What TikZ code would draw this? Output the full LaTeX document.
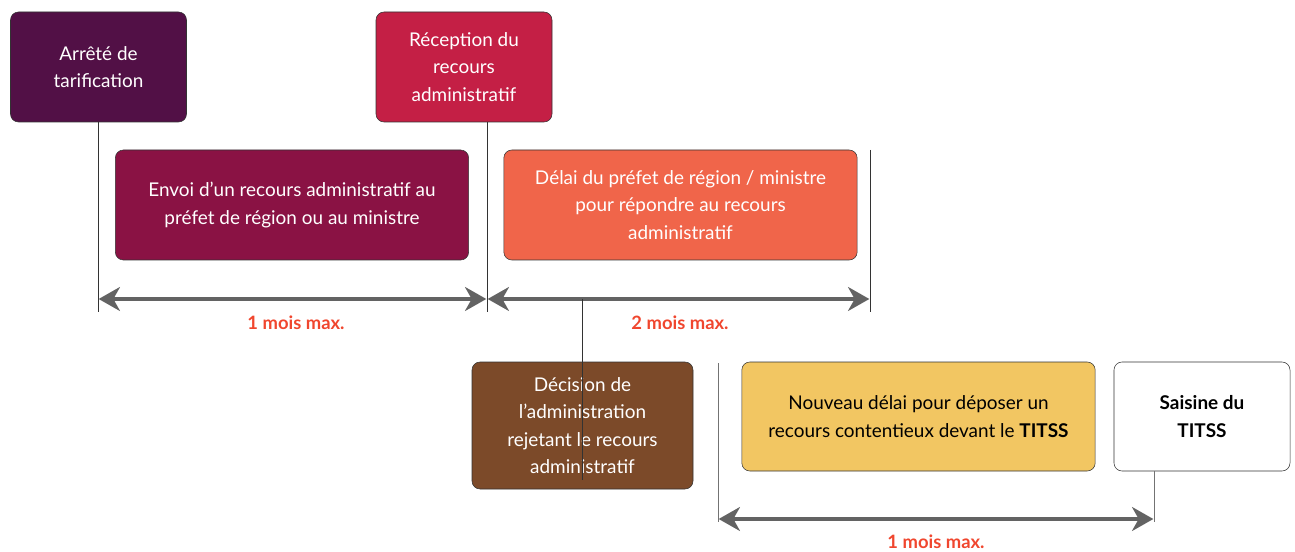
\documentclass[tikz,border=0pt]{standalone}
\usepackage{fontspec}
\setmainfont{Lato}
\usetikzlibrary{arrows.meta}
\definecolor{arretecol}{HTML}{521046}
\definecolor{receptcol}{HTML}{C41F45}
\definecolor{envoicol}{HTML}{8A1244}
\definecolor{delaicol}{HTML}{F0654A}
\definecolor{decisioncol}{HTML}{7C4A29}
\definecolor{nouveaucol}{HTML}{F2C662}
\definecolor{dureecol}{HTML}{F0462E}
\definecolor{flechecol}{HTML}{636363}
\begin{document}
\begin{tikzpicture}
		[x=0.75pt,y=-0.75pt,
		box/.style={draw=black!80,rounded corners=6pt,align=center,inner sep=0pt,
			font=\fontsize{14.2}{20.6}\selectfont,text=white},
		small/.style={box,minimum width=132pt,minimum height=82.5pt},
		large/.style={box,minimum width=265pt,minimum height=82.5pt},
		tick/.style={-,black!80,line width=0.7pt},
		span/.style={{Stealth[length=16pt,width=18pt,inset=5pt]}-{Stealth[length=16pt,width=18pt,inset=5pt]},
			flechecol,line width=2.3pt,shorten <=0.5pt,shorten >=0.5pt},
		duree/.style={text=dureecol,font=\fontsize{13.8}{15}\selectfont\bfseries}]
		
		\useasboundingbox (0,0) rectangle (1295,552);
		
		\node[small,fill=arretecol] (arrete) at (98.5,67) {Arrêté de\\tarification};
		\node[small,fill=receptcol] (reception) at (464,67) {Réception du\\recours\\administratif};
		\node[large,fill=envoicol] (envoi) at (292,205)
		{Envoi d’un recours administratif au\\préfet de région ou au ministre};
		\node[large,fill=delaicol] (delai) at (680.5,205)
		{Délai du préfet de région / ministre\\pour répondre au recours\\administratif};
		\node[box,fill=decisioncol,minimum width=165.75pt,minimum height=95.25pt] (decision) at (582.5,425.5)
		{Décision de\\l’administration\\rejetant le recours\\administratif};
		\node[large,fill=nouveaucol,text=black,minimum height=81.75pt] (nouveau) at (918.5,416.5)
		{Nouveau délai pour déposer un\\recours contentieux devant le \textbf{TITSS}};
		\node[small,fill=white,text=black,minimum height=81.75pt] (saisine) at (1202,416.5)
		{\textbf{Saisine du}\\\textbf{TITSS}};
		
		\coordinate (t1) at (98,312);
		\coordinate (t2) at (487,312);
		\coordinate (t3) at (870,150);
		\coordinate (t4) at (870,312);
		\coordinate (t5) at (718,363);
		\coordinate (t6) at (718,522);
		\coordinate (t7) at (1154,522);
		
		\draw[tick] (arrete.south -| t1) -- (t1);
		\draw[tick] (reception.south -| t2) -- (t2);
		\draw[tick] (t3) -- (t4);
		\draw[tick,black!55] (t5) -- (t6);
		\draw[tick,black!55] (saisine.south -| t7) -- (t7);
		
		\draw[span] (t1 |- 0,299) -- (t2 |- 0,299) coordinate[midway] (m1);
		\draw[span] (t2 |- 0,299) -- (t4 |- 0,299) coordinate[pos=0.25] (m2);
		\draw[span] (t6 |- 0,519) -- (t7 |- 0,519);
		
		\draw[tick] (m2) -- ([yshift=6.75pt]decision.south -| m2); % trait sur la décision
		
		\node[duree] (d1) at (296,323) {1 mois max.};
		\node[duree] (d2) at (680,323) {2 mois max.};
		\node[duree] (d3) at (936,542) {1 mois max.};
		
		\end{tikzpicture}
\end{document}
